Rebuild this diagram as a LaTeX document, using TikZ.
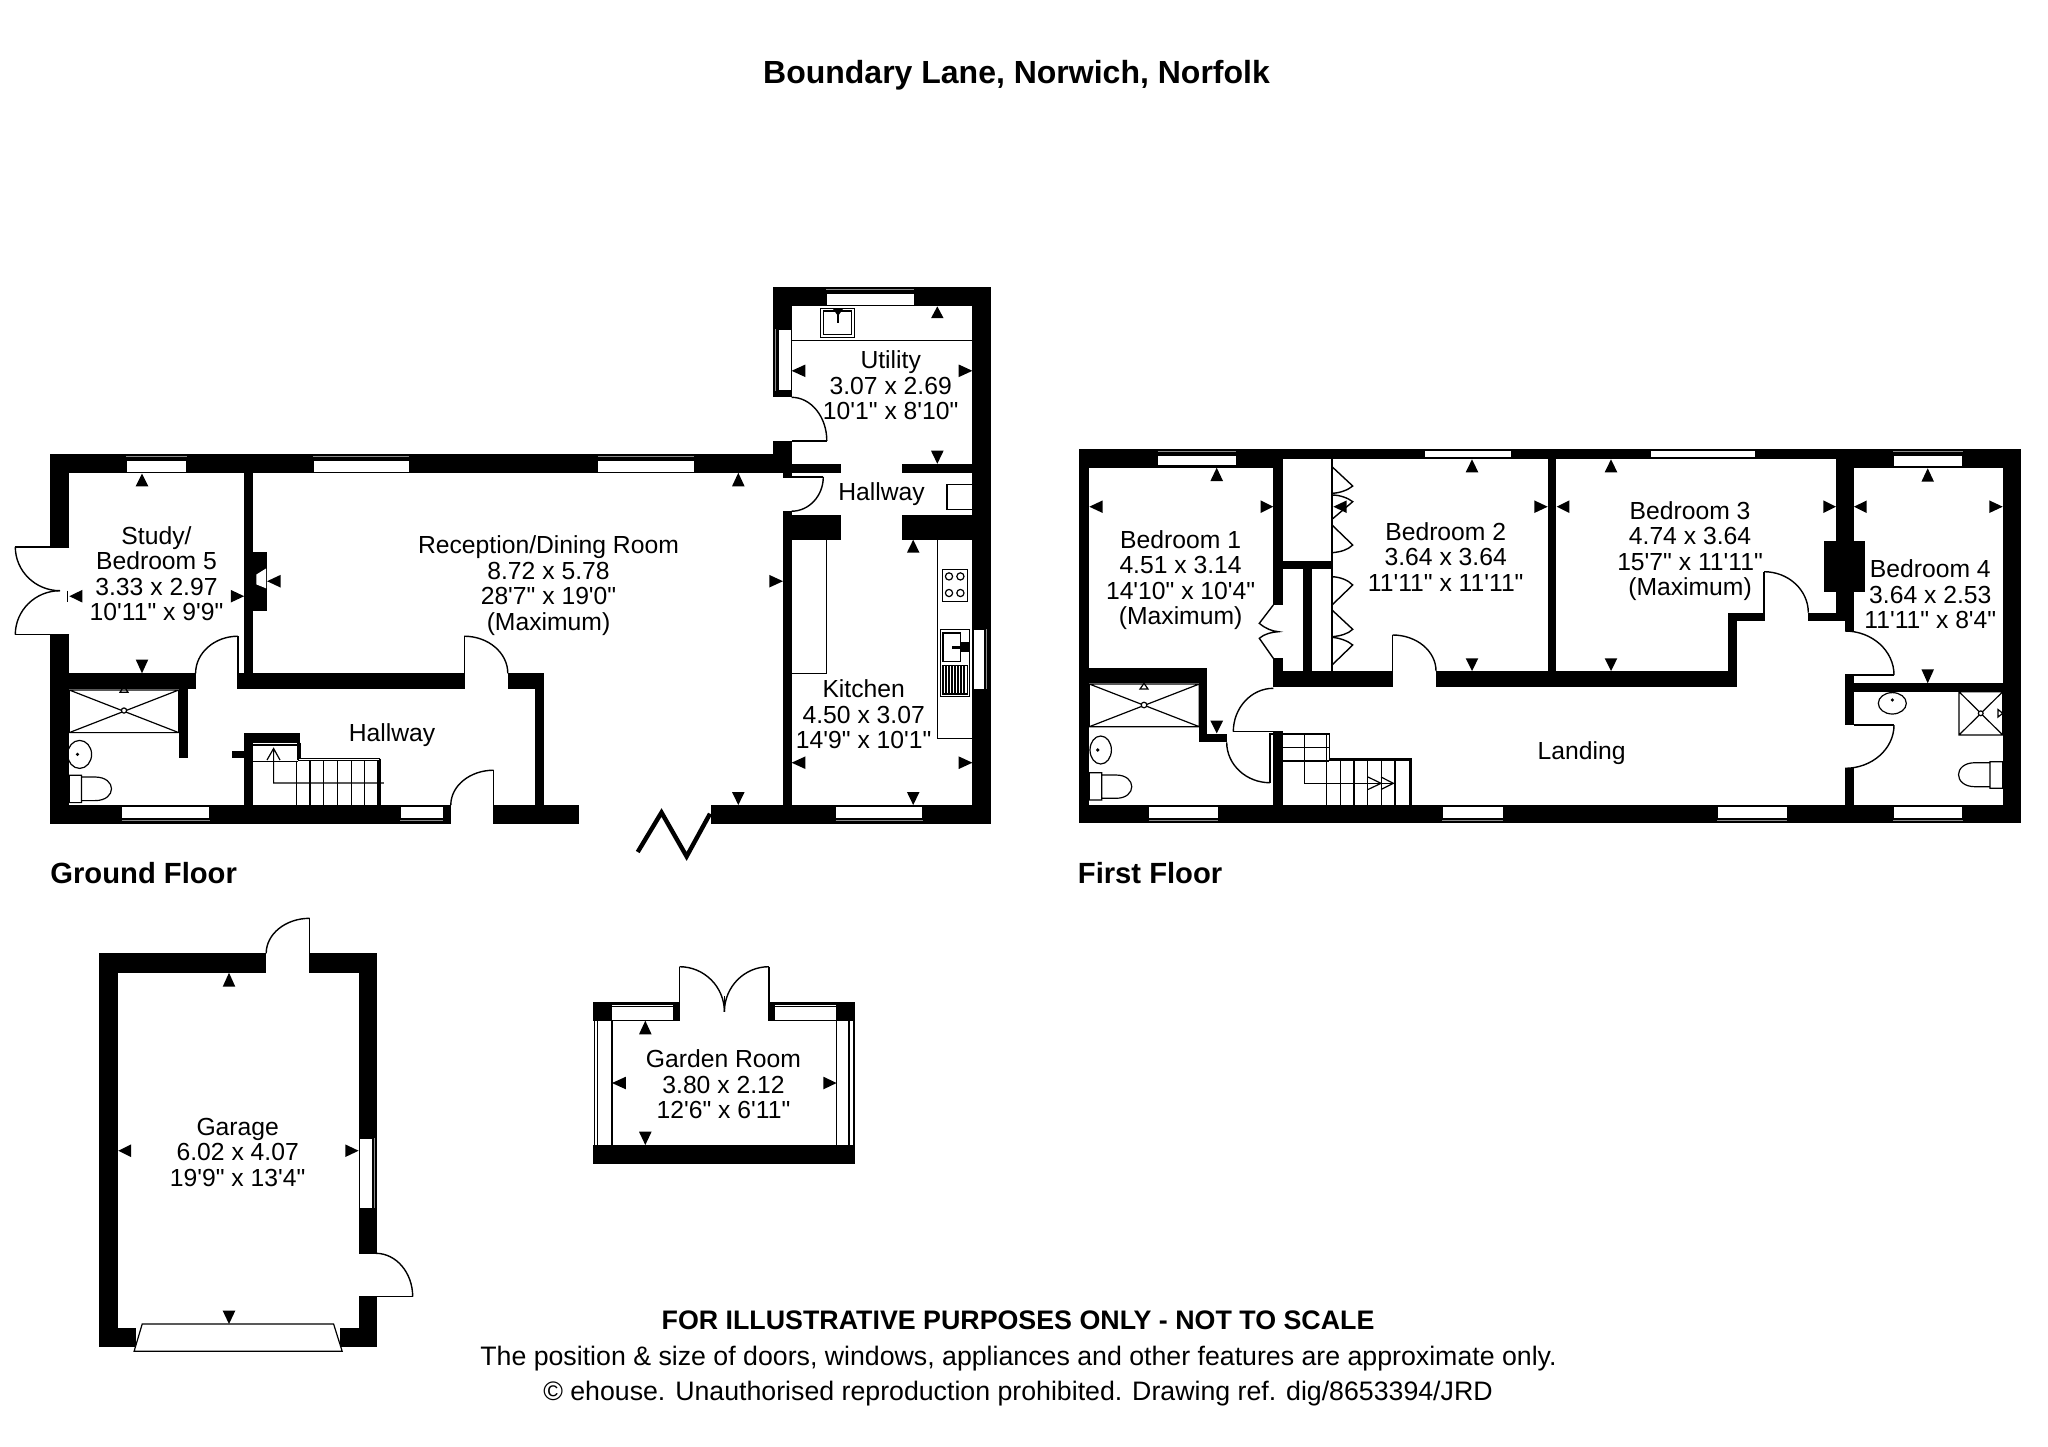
\documentclass[tikz,border=0pt]{standalone}
\usepackage{fontspec}
\setmainfont{Liberation Sans}
\newfontfamily\planfont{Liberation Sans}
\tikzset{
  wall/.style={fill=black},
  glazing/.style={fill=white,draw=black,line width=0.4pt},
  glint/.style={draw=black!45!white,line width=0.5pt},
  fixture/.style={draw=black,line width=0.6pt},
  door/.style={draw=black,line width=0.7pt},
  roomlabel/.style={align=center,inner sep=0pt,font=\planfont\fontsize{12.35}{12.75}\selectfont},
  floorlabel/.style={anchor=west,inner sep=0pt,font=\planfont\fontsize{14.6}{16}\selectfont\bfseries},
  noticetext/.style={inner sep=0pt,font=\planfont\fontsize{13.36}{14}\selectfont}
}
\newcommand{\swing}[4]{\draw[door] (#1,#2) .. controls (#1,{#2+0.552*(#4-#2)}) and ({#3-0.552*(#3-#1)},#4) .. (#3,#4);}
\begin{document}
\begin{tikzpicture}[x=0.5pt,y=-0.5pt]
\useasboundingbox (0,0) rectangle (2048,1446);
\foreach \xa/\ya/\xb/\yb in {50.1/453.9/783/472.8,50.1/453.9/69.3/546.8,50.1/634.6/69.3/823.6,50.1/805/450.8/823.6,493.7/805/578.6/823.6,710.7/805/991.4/823.6,
244.2/472.8/253/689.1,69.3/673.3/195.6/689.1,238/673.3/464.2/689.1,507.8/673.3/544.2/689.1,535/673.3/544.2/805,178.7/689.1/187.5/757.9,
244.2/732.6/253/805,244.2/732.6/300/742.5,231.9/750.8/244.2/757.9,253/551.9/267.1/610.5,
773/286.6/991.4/306.4,773/286.6/791.6/397.3,972.4/286.6/991.4/823.6,773/440.8/791.6/472.8,783/472.8/791.6/477,791.6/463.8/840.9/472.8,901.8/463.8/972.4/472.8,
783/511.2/791.6/805,791.6/515.2/840.9/539.7,901.8/515.2/972.4/539.7}
  \fill[wall] (\xa,\ya) rectangle (\xb,\yb);
\foreach \xa/\ya/\xb/\yb in {1079/449.3/2021.3/459.3,1079/449.3/1273.3/467.7,1836/449.3/2021.3/468.3,1079/449.3/1089.3/823.3,2002.7/449.3/2021.3/823.3,1079/805/2021.3/823.3,
1273.3/449.3/1282.7/605,1273.3/658.3/1282.7/687.3,1282.7/560.7/1332/569.3,1303.3/569.3/1311.7/671,1273.3/671/1392.7/687.3,1436/671/1736.7/687.3,1547.5/459.3/1556/671,
1728.3/612.7/1736.7/687.3,1728.3/612.7/1764/621,1808.3/612.7/1845/621,1836/449.3/1854/612.7,1845/612.7/1854/631,1824/541/1865.3/591.7,
1089.3/668.3/1207.3/683.3,1199.3/668.3/1207.3/742.3,1199.3/734/1227.3/742.3,1273.3/731.7/1282.7/805,1845/674.3/1854/725,1854/683.3/2002.7/691.7,1845/768.3/1854/805}
  \fill[wall] (\xa,\ya) rectangle (\xb,\yb);
\foreach \xa/\ya/\xb/\yb in {99.4/953.3/266.2/972.7,309.6/953.3/377.4/972.7,99.4/953.3/118.3/1347.3,358.6/953.3/377.4/1253.3,358.6/1296.7/377.4/1347.3,99.4/1327.7/136/1347.3,340.2/1327.7/377.4/1347.3,
592.8/1145/855/1164.3,592.8/1001.7/612/1020.7,836.1/1001.7/855/1020.7,612/1001.7/679.5/1005,673.4/1001.7/679.5/1020.7,768.8/1001.7/855/1005,768.8/1001.7/775.4/1020.7}
  \fill[wall] (\xa,\ya) rectangle (\xb,\yb);
\foreach \xa/\ya/\xb/\yb in {126.3/460/186.8/472,313/460/409/472,597.8/460/694.2/472,121.7/806/209.7/818,400.3/806/443.2/818,835.7/806/922.5/818,826.4/293.7/913.9/305,777.9/329.3/791/390.6,973.1/629/984/689.1,
1157.7/455/1236/465,1424.3/450.7/1511.7/457.3,1650/450.7/1755/457.3,1893.3/455/1962.7/466,1148.7/806.5/1218.3/818,1442.3/806.5/1503.3/818,1717.3/806.5/1787.3/818,1893.3/806.5/1962.7/818,359.6/1138.3/372/1208.3}
  \draw[glazing] (\xa,\ya) rectangle (\xb,\yb);
\foreach \xa/\xb/\y in {126.3/186.8/456.5,313/409/456.5,597.8/694.2/456.5,826.4/913.9/289.5,121.7/209.7/820.5,400.3/443.2/820.5,835.7/922.5/820.5,1157.7/1236/451.5,1893.3/1962.7/451.5,1148.7/1218.3/820.5,1442.3/1503.3/820.5,1717.3/1787.3/820.5,1893.3/1962.7/820.5}
  \draw[glint] (\xa,\y) -- (\xb,\y);
\foreach \x/\ya/\yb in {775.5/329.3/390.6,986.5/629/689.1,374.5/1138.3/1208.3}
  \draw[glint] (\x,\ya) -- (\x,\yb);
% doors
\swing{15.3}{546.8}{60}{590.7} \swing{15.3}{634.6}{60}{590.7}
\draw[door] (69.3,546.8) -- (15.3,546.8) (69.3,634.6) -- (15.3,634.6);
\swing{195.6}{673.3}{238}{636.2} \draw[door] (238,636.2) -- (238,689.1);
\swing{507.8}{673.3}{464.2}{636.2} \draw[door] (464.2,636.2) -- (464.2,689.1);
\swing{450.8}{805}{493.7}{770.2} \draw[door] (493.7,770.2) -- (493.7,823.6);
\swing{826.8}{440.8}{791.6}{397.3} \draw[door] (826.8,440.8) -- (791.6,440.8);
\swing{823.3}{476.8}{791.6}{511.2} \draw[door] (823.3,476.8) -- (783,476.8);
\swing{1226.7}{742.3}{1270}{782.7} \draw[door] (1270,782.7) -- (1270,734) -- (1273.3,734);
\swing{1233.3}{731.7}{1273.3}{688.3} \draw[door] (1233.3,731.7) -- (1282.7,731.7);
\swing{1436}{671}{1392.7}{635} \draw[door] (1392.7,635) -- (1392.7,687.3);
\swing{1808.3}{612.7}{1764}{571.7} \draw[door] (1764,571.7) -- (1764,621);
\swing{1894}{675}{1845}{631} \draw[door] (1894,675) -- (1854,675);
\swing{1894}{725}{1845}{768.3} \draw[door] (1894,725) -- (1854,725);
\swing{266.2}{953.3}{309.6}{918.3} \draw[door] (309.6,918.3) -- (309.6,972.7);
\swing{412.7}{1296.7}{375.9}{1253.3} \draw[door] (412.7,1296.7) -- (358.6,1296.7) (375.9,1253.3) -- (358.6,1253.3);
\swing{724.4}{1011.7}{679.5}{966.7} \swing{724.4}{1011.7}{768.8}{966.7}
\draw[door] (679.5,966.7) -- (679.5,1020.7) (768.8,966.7) -- (768.8,1020.7) (724.4,996) -- (724.4,1011.7);
\draw[line width=2.2pt] (637.7,852) -- (661.5,812.5) -- (686.6,856.4) -- (710,813.7);
% wardrobe doors
\draw[door] (1273.3,605) -- (1259.3,623.3) .. controls (1266,629) and (1272,631) .. (1278.3,631.7) .. controls (1272,632) and (1264,634) .. (1259.3,638.3) -- (1273.3,658.3);
\draw[fixture] (1332,459.3) -- (1332,670.7);
\draw[door] (1332,466.7) -- (1352.7,486) .. controls (1348,490) and (1340,493) .. (1332,493.3);
\draw[door] (1332,495) .. controls (1340,495) and (1348,498) .. (1352.7,501.7) -- (1332,519.3);
\draw[door] (1332,525) -- (1352.7,545) .. controls (1348,550) and (1340,552) .. (1332,552.7);
\draw[door] (1332,576.7) .. controls (1340,577) and (1348,580) .. (1352.7,585) -- (1332,605);
\draw[door] (1332,610) -- (1352.7,629.3) .. controls (1348,634) and (1340,636) .. (1332,636.7);
\draw[door] (1332,637.3) .. controls (1340,638) and (1348,641) .. (1352.7,645) -- (1332,665);
% stairs
\draw[fixture] (253,745) -- (296.6,745) (253,761.5) -- (298,761.5) (298,742.5) -- (298,760.3) (300,742.5) -- (300,758.5) -- (378,758.5) (298,760.5) -- (378,760.5) -- (378,805) (380,758.5) -- (380,805) (300,758.5) -- (380,758.5);
\foreach \x in {296.6,310,323.8,337.5,351.3,364.7}
  \draw[fixture] (\x,760.5) -- (\x,805);
\draw[fixture] (383.9,782.9) -- (273.6,782.9) -- (273.6,748.5) (267,760) -- (273.6,748.5) -- (280,760);
\draw[fixture] (1282.7,734) -- (1329.3,734) -- (1329.3,758.3) -- (1411.7,758.3) -- (1411.7,805) (1329.3,760) -- (1410,760) -- (1410,805);
\draw[fixture] (1282.7,747.3) -- (1329.3,747.3) (1282.7,761) -- (1329.3,761) (1304.3,734) -- (1304.3,783.3) -- (1393.3,783.3);
\foreach \x in {1340.7,1354,1367.7,1381.7,1395}
  \draw[fixture] (\x,760) -- (\x,805);
\draw[fixture] (1326.7,734) -- (1326.7,805);
\draw[fixture] (1368,777) -- (1381,783.3) -- (1368,789.5) (1381,777) -- (1393.3,783.3) -- (1381,789.5);
% showers, basins, toilets
\draw[fixture] (69.3,690) rectangle (178.7,732.6) (69.3,690) -- (178.7,732.6) (69.3,732.6) -- (178.7,690);
\draw[fixture,fill=white] (124,710.5) circle (2.6);
\draw[fixture] (120,692.3) -- (128,692.3) -- (124,686) -- cycle;
\draw[fixture] (1089.3,684) rectangle (1199.3,726.7) (1089.3,684) -- (1199.3,726.7) (1089.3,726.7) -- (1199.3,684);
\draw[fixture,fill=white] (1144,705) circle (2.8);
\draw[fixture] (1140,689) -- (1148,689) -- (1144,683.3) -- cycle;
\draw[fixture] (1959,691.7) rectangle (2002.7,735) (1959,691.7) -- (2002.7,735) (1959,735) -- (2002.7,691.7);
\draw[fixture,fill=white] (1980.7,713.3) circle (2.4);
\draw[fixture] (1998,709.5) -- (1998,717) -- (2002.7,713.3) -- cycle;
\draw[fixture] (79.6,754.4) ellipse (12 and 14) (1100.7,750) ellipse (10.7 and 14) (1892.3,703.3) ellipse (14 and 10.7);
\fill (77.5,754.4) circle (1.8) (1097.7,750) circle (1.8) (1892.3,700) circle (1.8);
\draw[fixture] (69.3,775.3) rectangle (81.5,802.6) (81.5,777) -- (95,777) .. controls (117,777) and (117,800.6) .. (95,800.6) -- (81.5,800.6);
\draw[fixture] (1089.3,772.7) rectangle (1101.7,800) (1101.7,775) -- (1116,775) .. controls (1137,775) and (1137,798.3) .. (1116,798.3) -- (1101.7,798.3);
\draw[fixture] (1990,761.7) rectangle (2002.7,788.3) (1990,762.7) -- (1975,762.7) .. controls (1953,762.7) and (1953,786.7) .. (1975,786.7) -- (1990,786.7);
% kitchen and utility units
\draw[fixture] (791.6,340.4) -- (972.4,340.4);
\draw[fixture] (820.6,308.4) rectangle (854.3,337.2) (823.3,311) rectangle (851.8,334.5);
\draw[line width=1.4pt] (838,309) -- (838,323);
\fill (833,309) -- (843,309) -- (838,316) -- cycle;
\draw[fixture] (947,484.7) rectangle (972.4,509.2);
\draw[fixture] (791.6,673.3) -- (826.8,673.3) -- (826.8,539.7);
\draw[fixture] (937.3,539.7) -- (937.3,738.6) -- (972.4,738.6);
\draw[fixture] (942.5,569.3) rectangle (967.3,601.4);
\foreach \x/\y in {949/576.4,960.4/576.4,949/593,960.4/593}
  \draw[fixture] (\x,\y) circle (3.6);
\draw[fixture] (940.7,629.8) rectangle (969.7,696.3) (943,633) rectangle (960.4,661.5) (943,665.4) rectangle (967.3,693.9);
\foreach \x in {946,949,952,955,958,961,964}
  \draw[fixture] (\x,666) -- (\x,693);
\draw[line width=1.4pt] (952.4,647.6) -- (969,647.6);
\fill (960,642) rectangle (969,652);
% fireplace
\fill[white] (256.4,574.5) -- (266,568.5) -- (266,588.3) -- (256.4,584.4) -- cycle;
% dimension marks, vertical
\foreach \x/\ya/\yb in {142/473.6/486.3,142/673.3/659.5,738.3/472.8/486.3,738.3/805/792,937.3/306.4/318.2,937.3/463.8/450.7,913.2/539.7/552.7,913.2/805/792,
1216.7/467.7/481,1216.7/733.3/720.7,1472/459.3/472.3,1472/671/658.3,1611/459.3/472.3,1611/671/658.3,1927.7/468.3/481.7,1927.7/683.3/669.3,
229/972.7/986.7,229/1324/1310.7,645.3/1020.7/1034.3,645.3/1145/1131.7}
  \fill (\x,\ya) -- ({\x-6.3},\yb) -- ({\x+6.3},\yb) -- cycle;
% dimension marks, horizontal
\foreach \y/\xa/\xb in {596.2/69.3/82.3,596.2/244.2/230.8,581.2/267.1/280.5,581.2/783/769.3,370.8/791.6/805.4,370.8/972.4/958.7,762.7/791.6/805.4,762.7/972.4/958.7,
506.7/1089.3/1102.7,506.7/1273.3/1260.7,506.7/1333.3/1346.7,506.7/1547.7/1534.3,506.7/1556.7/1569.3,506.7/1836/1823.3,506.7/1854/1866.7,506.7/2002.7/1989.3,
1150.7/118.3/131,1150.7/358.6/345.3,1083/612/625.9,1083/836.6/823.4}
  \fill (\xa,\y) -- (\xb,{\y-6.3}) -- (\xb,{\y+6.3}) -- cycle;
\draw[line width=0.8pt] (67.6,590.5) -- (67.6,601.9);
% garage door and garden room glazing
\draw[fixture,fill=white] (142.2,1324) -- (333.6,1324) -- (342.2,1351.3) -- (134.1,1351.3) -- cycle;
\draw[fixture] (612,1006.7) -- (673.4,1006.7) (612,1020.7) -- (673.4,1020.7) (775.4,1006.7) -- (836.1,1006.7) (775.4,1020.7) -- (836.1,1020.7);
\foreach \x in {594.3,597.5,612,836.6,849,854}
  \draw[fixture] (\x,1020.7) -- (\x,1145);
% texts
\node[font=\planfont\fontsize{16}{18}\selectfont\bfseries,inner sep=0pt] (titleText) at (1016.5,74.8) {Boundary Lane, Norwich, Norfolk};
\node[floorlabel] (groundText) at (50,873) {Ground Floor};
\node[floorlabel] (firstText) at (1077.5,873) {First Floor};
\node[roomlabel] (studyText) at (156.5,573.5) {Study/\\Bedroom 5\\3.33 x 2.97\\10'11" x 9'9"};
\node[roomlabel] (receptionText) at (548.5,585.5) {Reception/Dining Room\\8.72 x 5.78\\28'7" x 19'0"\\(Maximum)};
\node[roomlabel] (hallText) at (392,735.4) {Hallway};
\node[roomlabel] (utilityText) at (890.7,385.5) {Utility\\3.07 x 2.69\\10'1" x 8'10"};
\node[roomlabel] (backhallText) at (881.6,494) {Hallway};
\node[roomlabel] (kitchenText) at (863.7,714.5) {Kitchen\\4.50 x 3.07\\14'9" x 10'1"};
\node[roomlabel] (bedoneText) at (1180.6,580.3) {Bedroom 1\\4.51 x 3.14\\14'10" x 10'4"\\(Maximum)};
\node[roomlabel] (bedtwoText) at (1445.7,557) {Bedroom 2\\3.64 x 3.64\\11'11" x 11'11"};
\node[roomlabel] (bedthreeText) at (1690,550.9) {Bedroom 3\\4.74 x 3.64\\15'7" x 11'11"\\(Maximum)};
\node[roomlabel] (bedfourText) at (1930.3,594.5) {Bedroom 4\\3.64 x 2.53\\11'11" x 8'4"};
\node[roomlabel] (landingText) at (1581.6,752.7) {Landing};
\node[roomlabel] (garageText) at (237.7,1152) {Garage\\6.02 x 4.07\\19'9" x 13'4"};
\node[roomlabel] (gardenText) at (723.5,1084.5) {Garden Room\\3.80 x 2.12\\12'6" x 6'11"};
\node[noticetext,font=\planfont\fontsize{13.4}{14}\selectfont\bfseries] (noticeHead) at (1018,1320) {FOR ILLUSTRATIVE PURPOSES ONLY - NOT TO SCALE};
\node[noticetext] (noticeMid) at (1018.5,1358.6) {The position \& size of doors, windows, appliances and other features are approximate only.};
\node[noticetext] (noticeEnd) at (1018,1394) {© ehouse. Unauthorised reproduction prohibited. Drawing ref. dig/8653394/JRD};
\end{tikzpicture}
\end{document}
